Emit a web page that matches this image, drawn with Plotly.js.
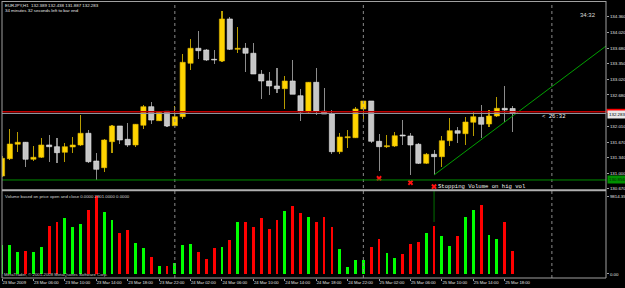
<!DOCTYPE html>
<html><head><meta charset="utf-8">
<script src="https://cdn.plot.ly/plotly-3.0.1.min.js"></script>
<style>html,body{margin:0;padding:0;background:#000;}#chart{width:625px;height:288px;}</style>
</head><body><div id="chart"></div>
<script>
// ---- data (EURJPY H1, bar 0 = 23 Mar 2009 02:00) ----
const barIndex = [0,1,2,3,4,5,6,7,8,9,10,11,12,13,14,15,16,17,18,19,20,21,22,23,24,25,26,27,28,29,30,31,32,33,34,35,36,37,38,39,40,41,42,43,44,45,46,47,48,49,50,51,52,53,54,55,56,57,58,59,60,61,62,63,64,65];
const opens  = [130.942,131.313,131.622,131.665,131.300,131.343,131.607,131.570,131.450,131.564,131.607,131.858,131.263,131.120,131.678,132.015,131.729,131.607,132.030,132.429,132.128,132.330,132.021,132.214,133.360,133.682,133.645,133.446,133.409,134.311,133.660,133.682,133.575,133.124,132.980,132.873,132.815,132.980,132.665,132.315,132.952,132.330,132.272,131.463,131.763,131.763,132.379,132.551,131.686,131.570,131.585,131.821,131.800,131.622,131.214,131.407,131.356,131.699,131.914,131.849,132.094,132.201,132.057,132.229,132.394,132.389];
const highs  = [131.371,131.944,131.886,131.678,131.585,131.751,131.821,131.751,131.656,131.785,132.251,131.929,131.429,131.729,132.036,132.015,132.073,132.051,132.459,132.530,132.330,132.330,132.444,133.560,133.881,134.047,133.660,133.645,134.482,134.360,134.145,133.789,133.802,133.216,133.180,133.253,133.087,133.431,132.809,132.965,133.253,132.824,132.358,131.871,131.929,132.429,132.551,132.551,131.843,131.821,131.892,132.143,131.858,131.643,131.429,131.500,131.800,132.180,132.000,132.214,132.343,132.465,132.358,132.630,132.873,132.438];
const lows   = [130.920,131.285,131.463,131.141,131.270,131.321,131.248,131.227,131.248,131.442,131.592,131.214,130.856,131.034,131.442,131.628,131.570,131.570,131.944,132.057,132.128,132.000,132.015,132.158,133.216,133.446,133.409,133.339,133.381,133.645,133.575,133.180,133.130,132.587,132.680,132.716,132.386,132.695,132.128,132.287,132.257,132.272,131.414,131.414,131.536,131.757,132.158,131.643,131.055,131.536,131.570,131.600,130.963,131.199,131.199,130.963,131.141,131.585,131.656,131.607,131.800,131.751,132.000,132.201,132.107,131.887];
const closes = [131.321,131.628,131.665,131.300,131.343,131.607,131.570,131.442,131.570,131.607,131.858,131.248,131.085,131.714,132.015,131.714,131.607,132.051,132.429,132.143,132.309,132.015,132.214,133.381,133.682,133.630,133.431,133.431,134.311,133.660,133.682,133.575,133.130,132.980,132.873,132.815,132.980,132.695,132.315,132.952,132.330,132.272,131.463,131.779,131.785,132.379,132.551,131.686,131.570,131.592,131.806,131.800,131.607,131.214,131.407,131.356,131.699,131.914,131.858,132.100,132.214,132.051,132.229,132.394,132.358,132.283];
const volumes = [3666,3666,2781,2949,2781,3413,6067,6573,7078,5983,6320,8132,9814,7837,6826,5224,5604,3918,3286,2149,969,1011,1390,3666,3792,2781,1896,3286,3413,4298,6573,6573,5941,7036,5688,6826,7921,8637,7668,7205,6573,7163,5983,3202,843,1728,1770,3413,4382,2613,2022,2528,3792,4087,5182,6109,4761,3539,4761,7205,8048,8722,4930,4424,6573,2901];

const timeTickIdx  = [0,4,8,12,16,20,24,28,32,36,40,44,48,52,56,60,64];
const timeTickText = ["23 Mar 2009","23 Mar 06:00","23 Mar 10:00","23 Mar 14:00","23 Mar 18:00","23 Mar 22:00","24 Mar 02:00","24 Mar 06:00","24 Mar 10:00","24 Mar 14:00","24 Mar 18:00","24 Mar 22:00","25 Mar 02:00","25 Mar 06:00","25 Mar 10:00","25 Mar 14:00","25 Mar 18:00"];
const priceTickVals = [134.36,134.02,133.68,133.35,133.02,132.68,132.01,131.67,131.34,131.00,130.67];
const priceTickText = ["134.360","134.020","133.680","133.350","133.020","132.680","132.010","131.670","131.340","131.000","130.670"];
const volTickVals = [0, 9814.35];
const volTickText = ["0.00", "9814.35"];

const daySepIdx = [22, 46, 70];
const bidPrice = 132.283;
const redLinePrice = 132.32;
const greenLinePrice = 130.856;
const trendIdx = [55, 77];
const trendPrice = [130.963, 133.744];
const markIdx = [48, 52, 55];
const markPrice = [130.892, 130.798, 130.712];
const vlineIdx = 55, vlineVolBottom = 6573;
const noteIdx = 55.35, notePrice = 130.712;
const timerIdx = 68.6;

// ---- layout helpers (pixels -> paper) ----
const PL = 2, PR = 606, PT = 2, PB = 278;
const X = px => (px - PL) / (PR - PL);
const Y = py => (PB - py) / (PB - PT);

const up = barIndex.map(i => closes[i] >= opens[i]);
const bodyBase = barIndex.map(i => Math.min(opens[i], closes[i]));
const bodyH = barIndex.map(i => Math.max(Math.abs(closes[i] - opens[i]), 0.014));
const wickH = barIndex.map(i => highs[i] - lows[i]);

const traces = [
  { type: 'bar', x: barIndex, base: lows, y: wickH, width: 0.14, yaxis: 'y', xaxis: 'x',
    marker: { color: up.map(u => u ? '#b89c00' : '#8c8c8c'), line: { width: 0 } } },
  { type: 'bar', x: barIndex, base: bodyBase, y: bodyH, width: 0.66, yaxis: 'y', xaxis: 'x',
    marker: { color: up.map(u => u ? '#ffd400' : '#c6c6c6'),
              line: { width: 0.6, color: up.map(u => u ? '#e0b800' : '#e6e6e6') } } },
  { type: 'bar', x: barIndex, y: volumes, width: 0.36, yaxis: 'y2', xaxis: 'x',
    marker: { color: up.map(u => u ? '#00ff00' : '#ff0000'), line: { width: 0 } } },
  { type: 'scatter', mode: 'lines', x: trendIdx, y: trendPrice, yaxis: 'y', xaxis: 'x',
    line: { color: '#00a000', width: 1 } },
  { type: 'scatter', mode: 'markers', x: markIdx, y: markPrice, yaxis: 'y', xaxis: 'x',
    marker: { symbol: 'x', size: 5, color: '#ff1010', line: { width: 0 } } }
];

const gray = '#a0a0a0';
const shapes = [];
daySepIdx.forEach(d => shapes.push({ type: 'line', xref: 'x', yref: 'paper', x0: d, x1: d, y0: 0, y1: 1,
  line: { color: '#8a8a8a', width: 1, dash: 'dot' } }));
shapes.push({ type: 'line', xref: 'paper', yref: 'y', x0: 0, x1: 1, y0: greenLinePrice, y1: greenLinePrice, line: { color: '#008c00', width: 1 } });
shapes.push({ type: 'line', xref: 'paper', yref: 'y', x0: 0, x1: 1, y0: redLinePrice, y1: redLinePrice, line: { color: '#c00000', width: 1.5 } });
shapes.push({ type: 'line', xref: 'paper', yref: 'y', x0: 0, x1: 1, y0: bidPrice, y1: bidPrice, line: { color: '#8f9aa5', width: 1 } });
shapes.push({ type: 'line', xref: 'x', yref: 'y2', x0: vlineIdx, x1: vlineIdx, y0: vlineVolBottom, y1: 10491, line: { color: '#007000', width: 1 } });
// red price-label box (mostly hidden under the bid label)
shapes.push({ type: 'rect', xref: 'paper', yref: 'paper', x0: X(606.5), x1: X(625), y0: Y(113), y1: Y(108.8),
  fillcolor: '#ff0000', line: { width: 0 } });
// borders
shapes.push({ type: 'line', xref: 'paper', yref: 'paper', x0: X(2), x1: X(2), y0: Y(278), y1: Y(1), line: { color: gray, width: 1 } });
shapes.push({ type: 'line', xref: 'paper', yref: 'paper', x0: X(2), x1: X(606), y0: Y(1.5), y1: Y(1.5), line: { color: gray, width: 1 } });
shapes.push({ type: 'line', xref: 'paper', yref: 'paper', x0: X(606), x1: X(606), y0: Y(278), y1: Y(1), line: { color: gray, width: 1 } });
shapes.push({ type: 'line', xref: 'paper', yref: 'paper', x0: X(2), x1: X(606), y0: Y(190.3), y1: Y(190.3), line: { color: '#b0b0b0', width: 2 } });
shapes.push({ type: 'line', xref: 'paper', yref: 'paper', x0: X(2), x1: X(606), y0: Y(278), y1: Y(278), line: { color: gray, width: 1 } });

const sans = 'Liberation Sans, Arial, sans-serif';
const mono = 'Liberation Mono, Courier New, monospace';
const txt = (t, px, py, size, color, fam, anchor) => ({ text: t, xref: 'paper', yref: 'paper', x: X(px), y: Y(py),
  xanchor: anchor || 'left', yanchor: 'middle', showarrow: false, borderpad: 0,
  font: { size: size, color: color, family: fam || sans } });

const annotations = [
  txt('EURJPY,H1  132.389 132.438 131.887 132.283', 3.5, 5, 4.4, '#e6e6e6'),
  txt('34 minutes 32 seconds left to bar end', 3.5, 10, 4.4, '#e6e6e6'),
  txt('34:32', 597, 15.5, 6, '#dcdcdc', sans, 'right'),
  txt('Volume based on price open and close 0.0000 2901.0000 0.0000', 3.5, 196, 4.3, '#d8d8d8'),
  txt('MetaTrader, \u00a9 2001-2008 MetaQuotes Software Corp.', 3, 274.5, 4.3, '#c8c8c8'),
  { text: 'Stopping Volume on hig vol', xref: 'x', yref: 'y', x: noteIdx, y: notePrice, xanchor: 'left', yanchor: 'middle',
    showarrow: false, borderpad: 0, font: { size: 5.6, color: '#f0f0f0', family: mono } },
  { text: '< 26:32', xref: 'x', yref: 'y', x: timerIdx, y: 132.22, xanchor: 'left', yanchor: 'middle',
    showarrow: false, borderpad: 0, font: { size: 5.6, color: '#f0f0f0', family: mono } },
  { text: '132.283', xref: 'paper', yref: 'y', x: X(606.5), y: bidPrice - 0.02, xanchor: 'left', yanchor: 'middle',
    showarrow: false, borderpad: 1, bgcolor: '#e8e8e8', font: { size: 4.4, color: '#000000', family: sans } },
  { text: '130.856', xref: 'paper', yref: 'y', x: X(606.5), y: greenLinePrice, xanchor: 'left', yanchor: 'middle',
    showarrow: false, borderpad: 1, bgcolor: '#009000', font: { size: 4.4, color: '#002000', family: sans } }
];

const layout = {
  width: 625, height: 288,
  margin: { l: PL, r: 625 - PR, t: PT, b: 288 - PB, pad: 0, autoexpand: false },
  paper_bgcolor: '#000000', plot_bgcolor: '#000000',
  showlegend: false, hovermode: false, barmode: 'overlay', bargap: 0,
  xaxis: { range: [-0.002, 76.89], anchor: 'y2', tickmode: 'array', tickvals: timeTickIdx, ticktext: timeTickText,
    tickangle: 0, automargin: false,
    ticklabelposition: 'outside right', ticks: 'outside', ticklen: 2, tickcolor: gray, tickwidth: 1,
    tickfont: { size: 4.2, color: '#e0e0e0', family: sans }, showgrid: false, zeroline: false, showline: false, fixedrange: true },
  yaxis: { domain: [0.3207, 1], range: [130.652, 134.675], side: 'right', anchor: 'x', tickmode: 'array',
    tickvals: priceTickVals, ticktext: priceTickText, ticks: 'outside', ticklen: 2, tickcolor: gray, automargin: false,
    tickfont: { size: 4.4, color: '#e0e0e0', family: sans }, showgrid: false, zeroline: false, showline: false, fixedrange: true },
  yaxis2: { domain: [0, 0.3152], range: [-506, 10491], side: 'right', anchor: 'x', tickmode: 'array',
    tickvals: volTickVals, ticktext: volTickText, ticks: 'outside', ticklen: 2, tickcolor: gray, automargin: false,
    tickfont: { size: 4.4, color: '#e0e0e0', family: sans }, showgrid: false, zeroline: false, showline: false, fixedrange: true },
  shapes: shapes, annotations: annotations
};

Plotly.newPlot('chart', traces, layout, { staticPlot: true, displayModeBar: false });
</script>
</body></html>
